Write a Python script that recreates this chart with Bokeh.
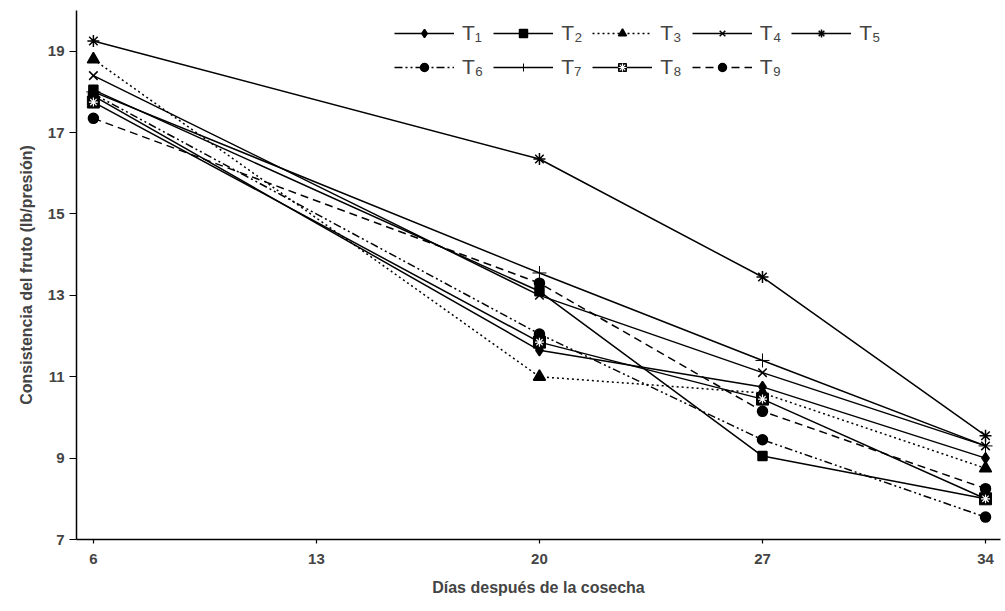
from bokeh.plotting import figure
from bokeh.models import Range1d, FixedTicker, Legend, LegendItem
from bokeh.embed import file_html
from bokeh.resources import INLINE

# ---- data ----
dias = [6, 20, 27, 34]
x_ticks = [6, 13, 20, 27, 34]
y_ticks = [7, 9, 11, 13, 15, 17, 19]

names = ["T\u2081", "T\u2082", "T\u2083", "T\u2084", "T\u2085", "T\u2086", "T\u2087", "T\u2088", "T\u2089"]
T1 = [17.90, 11.65, 10.75, 9.00]
T2 = [18.05, 13.10, 9.05, 8.00]
T3 = [18.80, 11.00, 10.60, 8.75]
T4 = [18.40, 13.00, 11.10, 9.30]
T5 = [19.25, 16.35, 13.45, 9.55]
T6 = [17.95, 12.05, 9.45, 7.55]
T7 = [18.00, 13.55, 11.40, 9.30]
T8 = [17.75, 11.85, 10.45, 8.00]
T9 = [17.35, 13.30, 10.15, 8.25]
values = [T1, T2, T3, T4, T5, T6, T7, T8, T9]

# ---- styles ----
dashes = ["solid", "solid", "2 3", "solid", "solid", "8 3 2 3 2 3", "solid", "solid", "8 5"]
markers = ["diamond", "square", "triangle", "x", "asterisk", "circle", "cross", "square", "circle"]
msizes = [11, 9, 12, 12, 12, 10, 14, 12, 10]

FONT = "Liberation Sans"

p = figure(width=1005, height=611, output_backend="svg", toolbar_location=None,
           x_range=Range1d(5.47, 34.47), y_range=Range1d(7, 20),
           min_border_left=76, min_border_right=5, min_border_top=10, min_border_bottom=72)
p.outline_line_color = None
p.xgrid.grid_line_color = None
p.ygrid.grid_line_color = None
p.background_fill_color = "white"
p.border_fill_color = "white"

items = []
for i, (nm, vals) in enumerate(zip(names, values)):
    r_line = p.line(dias, vals, line_color="black", line_width=1.5, line_dash=dashes[i])
    rs = [r_line]
    if i == 7:
        r_m = p.scatter(dias, vals, marker="square", size=msizes[i], fill_color="black", line_color="black")
        r_m2 = p.scatter(dias, vals, marker="asterisk", size=9, line_color="white", line_width=1.2)
        rs += [r_m, r_m2]
    else:
        lw = 1.0 if markers[i] == "cross" else 1.5
        r_m = p.scatter(dias, vals, marker=markers[i], size=msizes[i], fill_color="black",
                        line_color="black", line_width=lw)
        rs.append(r_m)
    items.append(LegendItem(label=nm, renderers=rs))

legend = Legend(items=items, orientation="horizontal", ncols=5, location=(318, 460),
                glyph_width=60, glyph_height=20, label_height=20, label_standoff=8,
                spacing=10, padding=0, margin=0,
                label_text_font=FONT, label_text_font_size="21px",
                border_line_color=None, background_fill_alpha=0)
p.add_layout(legend, "center")

# axes
for ax in (p.xaxis[0], p.yaxis[0]):
    ax.axis_line_color = "black"
    ax.axis_line_width = 1.5
    ax.major_tick_line_color = "black"
    ax.major_tick_line_width = 1.2
    ax.minor_tick_line_color = None
    ax.major_label_text_font = FONT
    ax.major_label_text_font_style = "bold"
    ax.major_label_text_font_size = "15px"
    ax.axis_label_text_font = FONT
    ax.axis_label_text_font_style = "bold"
    ax.axis_label_text_font_size = "16px"

p.xaxis.ticker = FixedTicker(ticks=x_ticks)
p.yaxis.ticker = FixedTicker(ticks=y_ticks)
p.xaxis.major_tick_out = 4
p.xaxis.major_tick_in = 0
p.yaxis.major_tick_out = 7
p.yaxis.major_tick_in = 0
p.xaxis.major_label_standoff = 10
p.yaxis.major_label_standoff = 5
p.xaxis.axis_label = "Días después de la cosecha"
p.yaxis.axis_label = "Consistencia del fruto (lb/presión)"
p.xaxis.axis_label_standoff = 12
p.yaxis.axis_label_standoff = 10

open("out.html", "w").write(file_html(p, INLINE))
